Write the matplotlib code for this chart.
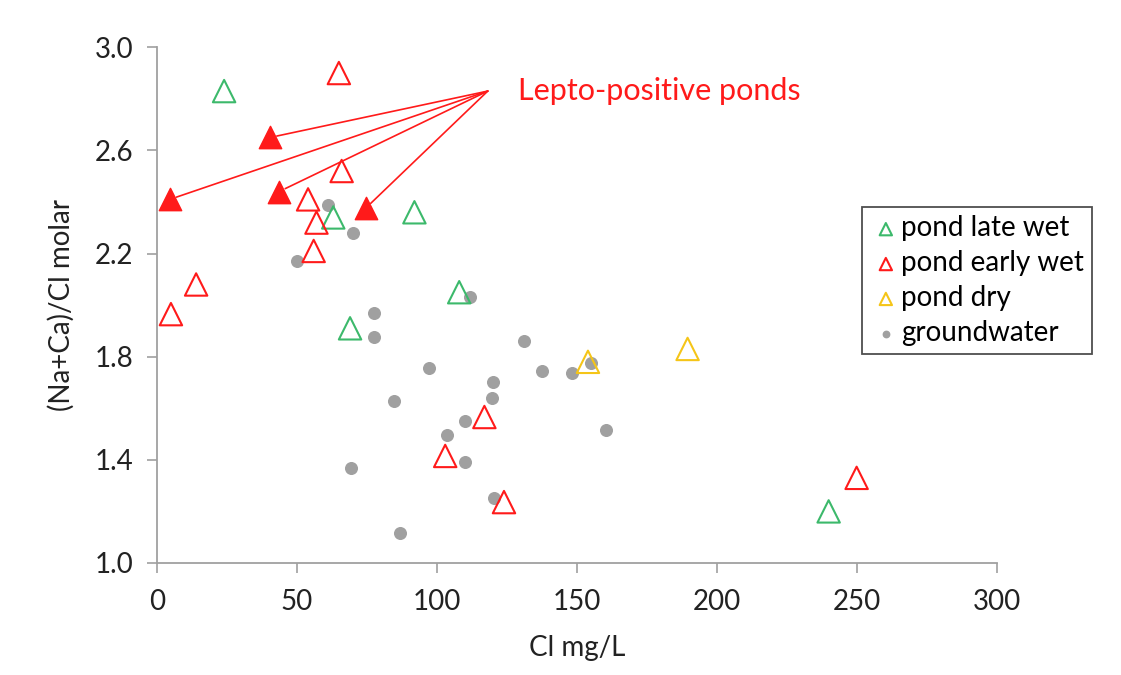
import matplotlib.pyplot as plt

plt.rcParams['font.family'] = ['Lato', 'DejaVu Sans']

# pond late wet
late_x = [24, 63, 92, 108, 69, 240]
late_y = [2.83, 2.34, 2.36, 2.05, 1.91, 1.20]

# pond early wet (open)
early_x = [65, 66, 54, 57, 56, 14, 5, 117, 103, 124, 250]
early_y = [2.90, 2.52, 2.41, 2.32, 2.21, 2.08, 1.965, 1.566, 1.415, 1.236, 1.33]

# lepto-positive ponds (filled, early wet)
lepto_x = [40.4, 4.6, 43.6, 74.6]
lepto_y = [2.65, 2.41, 2.44, 2.376]

# pond dry
dry_x = [154, 189.6]
dry_y = [1.78, 1.83]

# groundwater
gw_x = [61, 70, 50, 112, 77.4, 77.4, 131, 97.3, 137.6, 148.2, 155, 120, 119.6,
        84.8, 160.5, 110, 103.6, 110, 69.5, 120.5, 86.7]
gw_y = [2.39, 2.28, 2.17, 2.03, 1.97, 1.877, 1.86, 1.757, 1.744, 1.738, 1.775, 1.70,
        1.638, 1.63, 1.515, 1.55, 1.495, 1.39, 1.37, 1.25, 1.117]

green = '#3cb96b'
red = '#ff1a1a'
yellow = '#f5c518'
grey = '#a0a0a0'
txt = '#222222'

fig = plt.figure(figsize=(11.21, 6.75), dpi=100)
ax = fig.add_axes([0.140, 0.166, 0.749, 0.764])

ms = 260
ax.scatter(gw_x, gw_y, s=70, color=grey, zorder=2, label='groundwater')
ax.scatter(late_x, late_y, s=ms, marker='^', facecolors='none', edgecolors=green,
           linewidths=1.5, zorder=3, label='pond late wet')
ax.scatter(early_x, early_y, s=ms, marker='^', facecolors='none', edgecolors=red,
           linewidths=1.5, zorder=3, label='pond early wet')
ax.scatter(lepto_x, lepto_y, s=ms, marker='^', color=red, zorder=3)
ax.scatter(dry_x, dry_y, s=ms, marker='^', facecolors='none', edgecolors=yellow,
           linewidths=1.5, zorder=3, label='pond dry')

# annotation lines from one point to the lepto-positive ponds
src = (118.2, 2.83)
for x, y in zip(lepto_x, lepto_y):
    ax.annotate('', xy=(x, y), xytext=src,
                arrowprops=dict(arrowstyle='-', color=red, lw=1.2,
                                shrinkA=0, shrinkB=5))
ax.text(129, 2.83, 'Lepto-positive ponds', color=red, fontsize=22,
        va='center', ha='left')

ax.set_xlim(0, 300)
ax.set_ylim(1.0, 3.0)
ax.set_xticks([0, 50, 100, 150, 200, 250, 300])
ax.set_yticks([1.0, 1.4, 1.8, 2.2, 2.6, 3.0])
ax.set_yticklabels(['1.0', '1.4', '1.8', '2.2', '2.6', '3.0'])
ax.tick_params(labelsize=20, color=grey, length=7, width=1.2, labelcolor=txt)
ax.tick_params(axis='y', pad=10)
ax.tick_params(axis='x', pad=12)
for s in ['top', 'right']:
    ax.spines[s].set_visible(False)
for s in ['left', 'bottom']:
    ax.spines[s].set_color(grey)
    ax.spines[s].set_linewidth(1.3)

ax.set_xlabel('Cl mg/L', fontsize=20, color=txt, labelpad=14)
ax.set_ylabel('(Na+Ca)/Cl molar', fontsize=20, color=txt, labelpad=14)

handles, labels = ax.get_legend_handles_labels()
order = [1, 2, 3, 0]
leg = ax.legend([handles[i] for i in order], [labels[i] for i in order],
                loc='upper left', bbox_to_anchor=(0.840, 0.69), fontsize=20,
                frameon=True, fancybox=False, edgecolor=txt,
                handletextpad=0.0, borderpad=0.3, labelspacing=0.32,
                handlelength=1.1, markerscale=0.55, borderaxespad=0)
leg.get_frame().set_linewidth(1.3)

fig.savefig('out.png', dpi=100)
